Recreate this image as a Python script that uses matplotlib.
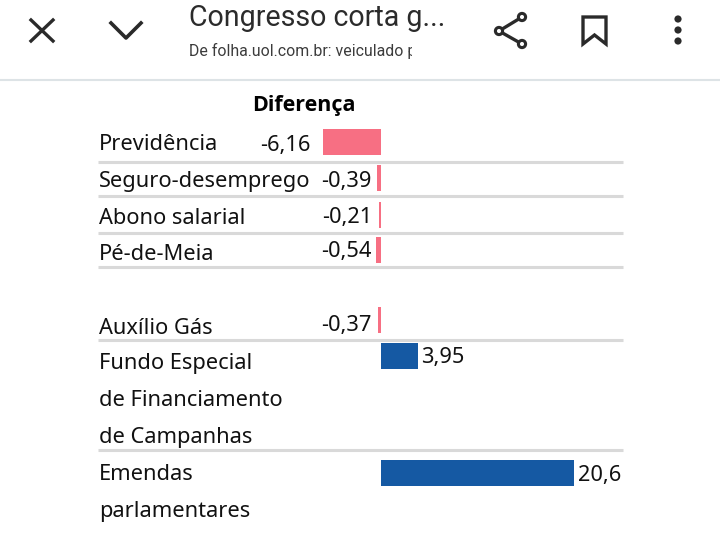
import matplotlib
matplotlib.use('Agg')
import matplotlib.pyplot as plt
from matplotlib.patches import Polygon, Circle, Rectangle

# data
labels = ['Previdência', 'Seguro-desemprego', 'Abono salarial', 'Pé-de-Meia', 'Auxílio Gás',
          'Fundo Especial\nde Financiamento\nde Campanhas', 'Emendas\nparlamentares']
diferenca = [-6.16, -0.39, -0.21, -0.54, -0.37, 3.95, 20.6]
value_text = ['-6,16', '-0,39', '-0,21', '-0,54', '-0,37', '3,95', '20,6']
header = 'Diferença'
page_title = 'Congresso corta g...'
page_source = 'De folha.uol.com.br: veiculado p'

# layout, in pixels of the 720x536 picture
W, H = 720, 536
bar_y = [142, 178, 215, 250, 320, 356, 473]
label_y = [144, 181, 218, 254, 328, 364, 475]
value_y = [145, 181, 217, 252, 325, 358, 475]
rule_y = [162, 196, 233, 267, 340, 450]
zero_x = 381
px_per_unit = 9.37

PINK = '#f76f83'
BLUE = '#1559a3'
FONT = 'Noto Sans'
SIZE = 15.7

fig = plt.figure(figsize=(7.2, 5.36), dpi=100, facecolor='white')

# page furniture and text use pixel coordinates
ax = fig.add_axes([0, 0, 1, 1])
ax.set_xlim(0, W)
ax.set_ylim(H, 0)
ax.axis('off')

ax.axhline(80, color='#dde3e6', lw=1.5)
for y in rule_y:
    ax.plot([98, 623], [y, y], color='#d9d9d9', lw=2.2, solid_capstyle='butt')

# the bars get their own axes, x in data units
bx = fig.add_axes([0, 0, 1, 1], sharey=ax)
bx.set_xlim(-zero_x / px_per_unit, (W - zero_x) / px_per_unit)
bx.axis('off')
bx.patch.set_alpha(0)
for v, y in zip(diferenca, bar_y):
    bx.barh(y, v, height=26, color=BLUE if v > 0 else PINK, linewidth=0)

for lab, y in zip(labels, label_y):
    for i, line in enumerate(lab.split('\n')):
        ax.text(99, y + i * 37, line, fontsize=SIZE, family=FONT, va='center', ha='left', color='#111111')

for v, txt, y in zip(diferenca, value_text, value_y):
    if v < 0:
        ax.text(zero_x + v * px_per_unit - 13 if v < -1 else 372, y, txt, fontsize=SIZE, family=FONT,
                va='center', ha='right', color='#111111')
    else:
        ax.text(zero_x + v * px_per_unit + 3.5, y, txt, fontsize=SIZE, family=FONT,
                va='center', ha='left', color='#111111')

ax.text(304, 106, header, fontsize=15.5, family='Open Sans', weight='bold', ha='center', va='center', color='black')

ax.text(189, 18, page_title, fontsize=20.6, family='Roboto', va='center', ha='left', color='#2b2b2b')
src = ax.text(189, 51, page_source, fontsize=11.4, family='Roboto', va='center', ha='left', color='#3c3c3c')
src.set_clip_on(True)
src.set_clip_path(Rectangle((189, 40), 223, 24, transform=ax.transData))

# toolbar icons
ic = '#2a2a2a'
ax.plot([31, 53], [20, 41], color=ic, lw=2.4)
ax.plot([53, 31], [20, 41], color=ic, lw=2.4)
ax.plot([111, 126, 141], [23, 38, 23], color=ic, lw=2.6)
ax.plot([522, 499, 522], [17, 31, 44], color=ic, lw=2.4)
for c in [(522, 17), (499, 31), (522, 44)]:
    ax.add_patch(Circle(c, 3.6, fc='white', ec=ic, lw=2.2, zorder=3))
ax.add_patch(Polygon([(583, 17), (606, 17), (606, 44), (594.5, 35), (583, 44)], closed=True,
                     fc='none', ec=ic, lw=2.4))
for y in [19, 30, 41]:
    ax.add_patch(Circle((678, y), 3.6, fc=ic, ec='none'))

fig.savefig('out.png', dpi=100)
